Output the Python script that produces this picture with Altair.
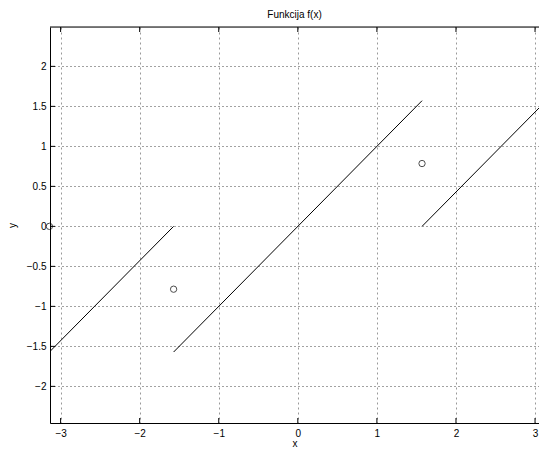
import altair as alt
import pandas as pd
import numpy as np

PI = np.pi
# line segments of f(x)
seg_id = [0, 0, 1, 1, 2, 2]
seg_x = [-PI, -PI / 2, -PI / 2, PI / 2, PI / 2, PI]
seg_y = [-PI / 2, 0.0, -PI / 2, PI / 2, 0.0, PI / 2]
# circles at discontinuities
pt_x = [-PI, -PI / 2, PI / 2]
pt_y = [0.0, -PI / 4, PI / 4]

x_ticks = [-3, -2, -1, 0, 1, 2, 3]
y_ticks = [-2, -1.5, -1, -0.5, 0, 0.5, 1, 1.5, 2]

XDOM = [-3.134, 3.05]
YDOM = [-2.458, 2.492]
W, H = 489, 396
FONT = "Liberation Sans"

lines = pd.DataFrame({"seg": seg_id, "x": seg_x, "y": seg_y})
pts = pd.DataFrame({"x": pt_x, "y": pt_y})
xt = pd.DataFrame({"t": x_ticks})
yt = pd.DataFrame({"t": y_ticks})

xs = alt.Scale(domain=XDOM, nice=False, zero=False)
ys = alt.Scale(domain=YDOM, nice=False, zero=False)

xaxis = alt.Axis(values=x_ticks, title="x", grid=True, gridDash=[2, 3], gridColor="#999999",
                 tickSize=0, labelPadding=5, domainColor="black", labelColor="black",
                 labelFont=FONT, labelFontSize=10, titleFont=FONT, titleFontSize=10,
                 titleFontWeight="normal", titlePadding=0, format="~g", labelFlush=False)
yaxis = alt.Axis(values=y_ticks, title="y", grid=True, gridDash=[1, 3], gridColor="#444444",
                 tickSize=0, labelPadding=4, domainColor="black", labelColor="black",
                 labelFont=FONT, labelFontSize=10, titleFont=FONT, titleFontSize=10,
                 titleFontWeight="normal", titlePadding=9, format="~g", labelFlush=False)

line_layer = alt.Chart(lines).mark_line(color="black", strokeWidth=1, clip=True).encode(
    x=alt.X("x:Q", scale=xs, axis=xaxis),
    y=alt.Y("y:Q", scale=ys, axis=yaxis),
    detail="seg:N",
)
pt_layer = alt.Chart(pts).mark_point(shape="circle", size=40, color="black", filled=False,
                                     strokeWidth=1).encode(
    x=alt.X("x:Q", scale=xs), y=alt.Y("y:Q", scale=ys))

# inward ticks
xt_bot = alt.Chart(xt).mark_rule(color="black").encode(
    x=alt.X("t:Q", scale=xs), y=alt.value(H), y2=alt.value(H - 5))
xt_top = alt.Chart(xt).mark_rule(color="black").encode(
    x=alt.X("t:Q", scale=xs), y=alt.value(0), y2=alt.value(5))
yt_left = alt.Chart(yt).mark_rule(color="black").encode(
    y=alt.Y("t:Q", scale=ys), x=alt.value(0), x2=alt.value(5))
# top frame line
top_line = alt.Chart(pd.DataFrame({"a": [0]})).mark_rule(color="black", strokeWidth=1).encode(
    x=alt.value(0), x2=alt.value(W), y=alt.value(0))

chart = alt.layer(line_layer, pt_layer, xt_bot, xt_top, yt_left, top_line).properties(
    width=W, height=H,
    title=alt.TitleParams("Funkcija f(x)", font=FONT, fontSize=10, fontWeight="normal",
                          color="black", offset=7),
    autosize=alt.AutoSizeParams(type="none"),
    padding={"left": 42, "top": 19, "right": 0, "bottom": 26},
).configure_view(strokeWidth=0).configure(background="white")

chart.save("out.html", embed_options={"renderer": "svg", "actions": False})
